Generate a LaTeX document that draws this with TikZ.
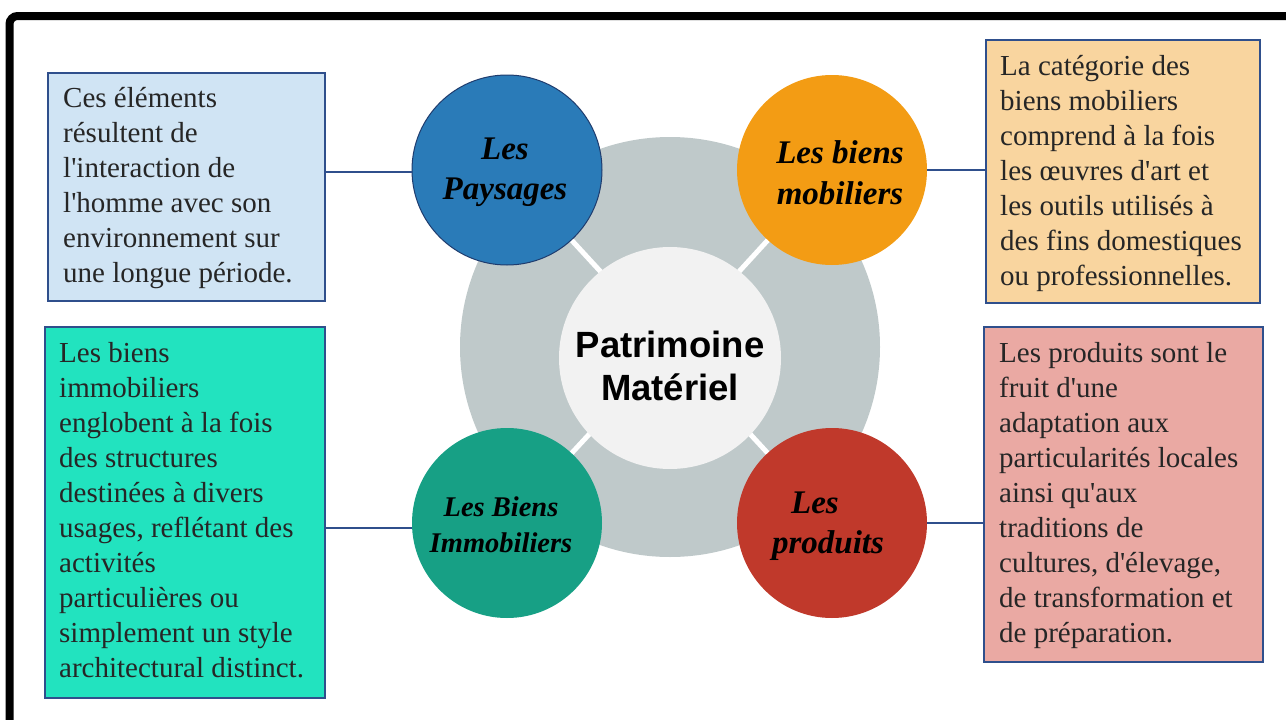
\documentclass[tikz,border=0pt]{standalone}
\usepackage{fontspec}
\setmainfont{Liberation Serif}
\setsansfont{Liberation Sans}
\definecolor{cblue}{HTML}{2A7BB8}
\definecolor{corange}{HTML}{F39C14}
\definecolor{cgreen}{HTML}{17A085}
\definecolor{cred}{HTML}{C0392B}
\definecolor{ringgray}{HTML}{BFC9CA}
\definecolor{innergray}{HTML}{F2F2F2}
\definecolor{navy}{HTML}{1F3C6E}
\definecolor{boxline}{HTML}{2F4F8C}
\definecolor{bluebox}{HTML}{D0E4F4}
\definecolor{orangebox}{HTML}{F9D59F}
\definecolor{tealbox}{HTML}{22E3BF}
\definecolor{pinkbox}{HTML}{EAA9A3}
\definecolor{txtc}{HTML}{262626}
\newcommand{\aq}{\textquotesingle}
\begin{document}
\begin{tikzpicture}[x=1pt,y=-1pt,
  box/.style={draw=boxline, line width=1.5pt, anchor=north west, inner sep=0pt},
  txt/.style={anchor=north west, inner sep=0pt, align=left, text=txtc, font=\fontsize{29}{35}\selectfont},
  lbl/.style={align=center, inner sep=0pt, text=black, font=\bfseries\itshape\fontsize{33}{40}\selectfont},
  bub/.style={circle, inner sep=0pt, minimum size=190pt},
  conn/.style={draw=boxline, line width=1.5pt},
  spoke/.style={draw=white, line width=5pt}]
\useasboundingbox (0,0) rectangle (1286,720);
\clip (0,0) rectangle (1286,720);
\fill[white] (0,0) rectangle (1286,720);
% frame
\draw[line width=8pt, rounded corners=8pt] (9.5,760) -- (9.5,16) -- (1320,16);
% ring and core
\node[circle, fill=ringgray, minimum size=420pt, inner sep=0pt] (ring) at (670,347) {};
\node[bub] (c1) at (507,170) {};
\node[bub] (c2) at (832,170) {};
\node[bub] (c3) at (507,523) {};
\node[bub] (c4) at (832,523) {};
\draw[spoke] (ring.center) -- (c1.center);
\draw[spoke] (ring.center) -- (c2.center);
\draw[spoke] (ring.center) -- (c3.center);
\draw[spoke] (ring.center) -- (c4.center);
\node[circle, fill=innergray, minimum size=222pt, inner sep=0pt] (core) at (670,358) {};
\node[align=center, inner sep=0pt, text=black, font=\sffamily\bfseries\fontsize{36.5}{43}\selectfont] (title) at (670,366) {Patrimoine\\Matériel};
% bubbles
\node[bub, fill=cblue, draw=navy, line width=1pt] at (c1) {};
\node[bub, fill=corange] at (c2) {};
\node[bub, fill=cgreen] at (c3) {};
\node[bub, fill=cred] at (c4) {};
\node[lbl] (l1) at (505,172) {Les\\Paysages};
\node[lbl, font=\bfseries\itshape\fontsize{33}{41}\selectfont] (l2) at (840,173) {Les biens\\mobiliers};
\node[lbl, font=\bfseries\itshape\fontsize{28.5}{36}\selectfont] (l3) at (501,525) {Les Biens\\Immobiliers};
\node[lbl] (l4) at (828,526) {Les\hspace*{26pt}\\produits};
% boxes
\node[box, fill=bluebox, minimum width=277pt, minimum height=228pt] (b1) at (47,72) {};
\node[box, fill=orangebox, minimum width=274pt, minimum height=263pt] (b2) at (985,39) {};
\node[box, fill=tealbox, minimum width=280pt, minimum height=371pt] (b3) at (44,326) {};
\node[box, fill=pinkbox, minimum width=279pt, minimum height=335pt] (b4) at (983,326) {};
\node[txt] (t1) at ([shift={(16,15.5)}]b1.north west) {Ces éléments\\résultent de\\l\aq interaction de\\l\aq homme avec son\\environnement sur\\une longue période.};
\node[txt] (t2) at ([shift={(15,16.5)}]b2.north west) {La catégorie des\\biens mobiliers\\comprend à la fois\\les œuvres d\aq art et\\les outils utilisés à\\des fins domestiques\\ou professionnelles.};
\node[txt] (t3) at ([shift={(15,16.5)}]b3.north west) {Les biens\\immobiliers\\englobent à la fois\\des structures\\destinées à divers\\usages, reflétant des\\activités\\particulières ou\\simplement un style\\architectural distinct.};
\node[txt] (t4) at ([shift={(16,16.5)}]b4.north west) {Les produits sont le\\fruit d\aq une\\adaptation aux\\particularités locales\\ainsi qu\aq aux\\traditions de\\cultures, d\aq élevage,\\de transformation et\\de préparation.};
% connectors
\draw[conn] ([yshift=-2pt]c1.west) -- ([yshift=-2pt]c1.west -| b1.east);
\draw[conn] (c2.east) -- (c2.east -| b2.west);
\draw[conn] ([yshift=-5pt]c3.west) -- ([yshift=-5pt]c3.west -| b3.east);
\draw[conn] (c4.east) -- (c4.east -| b4.west);
\end{tikzpicture}
\end{document}
